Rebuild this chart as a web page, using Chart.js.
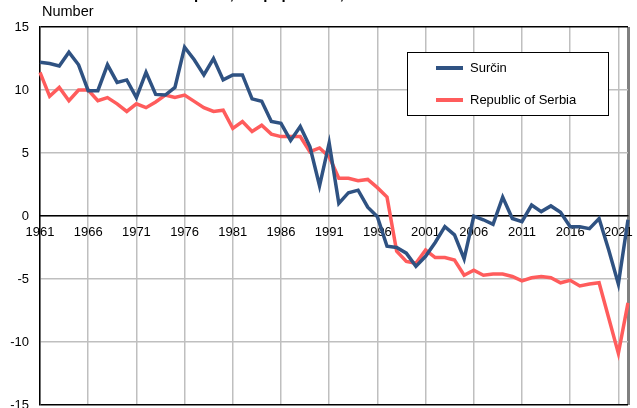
<!DOCTYPE html>
<html>
<head>
<meta charset="utf-8">
<script src="https://cdn.jsdelivr.net/npm/chart.js@4"></script>
<style>
  html, body { margin: 0; padding: 0; background: #fff; }
  #wrap { width: 637px; height: 408px; }
</style>
</head>
<body>
<div id="wrap"><canvas id="chart1"></canvas></div>
<script>
const years = [];
for (let y = 1961; y <= 2022; y++) years.push(String(y));

const surcin = [
  12.2, 12.1, 11.9, 13.0, 12.0, 9.95, 9.95, 12.0, 10.6, 10.8,
  9.4, 11.4, 9.65, 9.6, 10.2, 13.4, 12.4, 11.2, 12.5, 10.8,
  11.2, 11.2, 9.3, 9.1, 7.5, 7.35, 6.0, 7.1, 5.5, 2.4,
  5.8, 1.0, 1.85, 2.05, 0.7, -0.05, -2.4, -2.5, -2.95, -4.0,
  -3.2, -2.1, -0.85, -1.5, -3.4, 0.0, -0.3, -0.66, 1.5, -0.2,
  -0.45, 0.87, 0.35, 0.8, 0.3, -0.85, -0.85, -1.0, -0.2, -2.7,
  -5.4, -0.3
];

const serbia = [
  11.4, 9.5, 10.2, 9.15, 10.0, 10.0, 9.15, 9.4, 8.9, 8.3,
  8.9, 8.6, 9.05, 9.6, 9.4, 9.6, 9.1, 8.6, 8.3, 8.4,
  6.95, 7.5, 6.7, 7.2, 6.5, 6.3, 6.3, 6.3, 5.1, 5.4,
  4.7, 3.0, 3.0, 2.8, 2.9, 2.25, 1.5, -2.8, -3.6, -3.75,
  -2.7, -3.3, -3.3, -3.5, -4.7, -4.3, -4.7, -4.6, -4.6, -4.8,
  -5.15, -4.9, -4.8, -4.9, -5.3, -5.1, -5.55, -5.4, -5.3, -8.1,
  -10.9, -6.9
];

const seriesNames = ['Surčin', 'Republic of Serbia'];
const seriesColors = ['#2f5282', '#ff5c5c'];
const yTicks = [-15, -10, -5, 0, 5, 10, 15];

const FONT = '"Liberation Sans", Arial, sans-serif';

// legend box, "Number" label and the cut-off title line are drawn by hand
const extras = {
  id: 'extras',
  afterDraw(chart) {
    const c = chart.ctx;
    c.save();

    // clipped title at the very top, only the descenders show
    c.font = 'bold 15px ' + FONT;
    c.fillStyle = '#000';
    c.textBaseline = 'alphabetic';
    const prefix = 'Natural increase ';
    const x0 = 194 - c.measureText(prefix).width;
    c.fillText('Natural increase per 1,000 population, Surčin', x0, -1);

    c.font = '14.5px ' + FONT;
    c.textBaseline = 'middle';
    c.fillText('Number', 42, 12);

    // legend
    c.fillStyle = '#fff';
    c.fillRect(407.5, 52.5, 201, 63);
    c.strokeStyle = '#000';
    c.lineWidth = 1;
    c.strokeRect(407.5, 52.5, 201, 63);

    const rows = [68, 100];
    chart.data.datasets.forEach((ds, i) => {
      c.strokeStyle = ds.borderColor;
      c.lineWidth = 4;
      c.beginPath();
      c.moveTo(436, rows[i]);
      c.lineTo(463, rows[i]);
      c.stroke();
      c.fillStyle = '#000';
      c.font = '13px ' + FONT;
      c.fillText(ds.label, 470, rows[i]);
    });

    c.restore();
  }
};

// labels at the ends may spill out of the plot, as in the original
function noPadding(scale) {
  scale.paddingTop = 0;
  scale.paddingBottom = 0;
  scale.paddingLeft = 0;
  scale.paddingRight = 0;
}

const ctx = document.getElementById('chart1');

const myChart = new Chart(ctx, {
  type: 'line',
  data: {
    labels: years,
    datasets: [{
      label: seriesNames[0],
      data: surcin,
      borderColor: seriesColors[0],
      backgroundColor: seriesColors[0],
      borderWidth: 3.5,
      pointRadius: 0,
      tension: 0,
      fill: false
    }, {
      label: seriesNames[1],
      data: serbia,
      borderColor: seriesColors[1],
      backgroundColor: seriesColors[1],
      borderWidth: 3.5,
      pointRadius: 0,
      tension: 0,
      fill: false
    }]
  },
  options: {
    responsive: true,
    maintainAspectRatio: false,
    animation: false,
    events: [],
    layout: { padding: { left: 0, top: 27, right: 9, bottom: 3 } },
    plugins: {
      legend: { display: false },
      title: { display: false },
      tooltip: { enabled: false }
    },
    scales: {
      x: {
        type: 'category',
        position: { y: 0 },
        offset: false,
        afterFit: scale => { scale.height = 0; noPadding(scale); },
        border: { display: true, color: '#000', width: 1.5 },
        grid: {
          drawTicks: false,
          color: c => {
            if (c.index === years.length - 1) return '#808080';
            return c.index % 5 === 0 ? '#bfbfbf' : 'rgba(0,0,0,0)';
          },
          lineWidth: c => (c.index === years.length - 1 ? 3 : 1.5)
        },
        ticks: {
          autoSkip: false,
          maxRotation: 0,
          padding: 9,
          color: '#000',
          font: { family: FONT, size: 13 },
          callback: function(value, index) {
            return index % 5 === 0 ? this.getLabelForValue(value) : '';
          }
        }
      },
      y: {
        min: yTicks[0],
        max: yTicks[yTicks.length - 1],
        afterFit: scale => { scale.width = 40; noPadding(scale); },
        border: { display: true, color: '#000', width: 1.5 },
        grid: {
          drawTicks: false,
          color: c => (Math.abs(c.tick.value) === 15 ? '#000' : '#bfbfbf'),
          lineWidth: 1.5
        },
        ticks: {
          stepSize: 5,
          padding: 11,
          color: '#000',
          font: { family: FONT, size: 13 }
        }
      }
    }
  },
  plugins: [extras]
});
</script>
</body>
</html>
